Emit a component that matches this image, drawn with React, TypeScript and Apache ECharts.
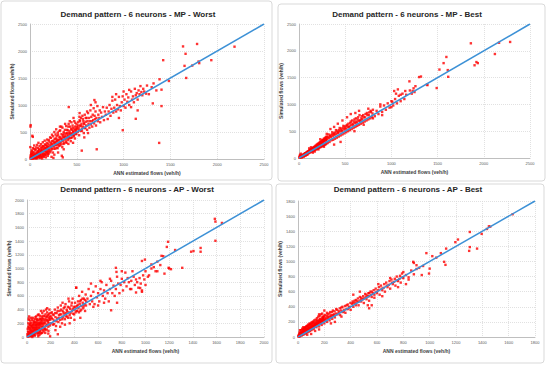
import React, { useEffect, useRef } from "react";
import * as echarts from "echarts";

const titles = [
  "Demand pattern - 6 neurons - MP - Worst",
  "Demand pattern - 6 neurons - MP - Best",
  "Demand pattern - 6 neurons - AP - Worst",
  "Demand pattern - 6 neurons - AP - Best",
];
const xAxisName = "ANN estimated flows (veh/h)";
const yAxisName = "Simulated flows (veh/h)";
const axisMax = [2500, 2500, 2000, 1800];
const axisStep = [500, 500, 200, 200];

const p1Points: number[][] = [
  [5,10],[10,30],[15,5],[20,45],[25,20],[30,60],[35,15],[40,80],[45,35],[50,55],[55,100],[60,25],[65,70],[70,120],[75,40],[80,90],[85,150],[90,60],[95,110],[100,30],[100,180],[105,85],[110,130],[115,50],[120,200],[125,95],[130,160],[135,70],[140,240],[145,120],[150,180],[155,90],[160,270],[165,140],[170,210],[175,110],[180,300],[185,160],[190,230],[195,130],[200,350],[200,190],[12,120],[8,70],[18,160],[30,200],[45,250],[60,180],[75,260],[90,300],[110,20],[130,10],[150,40],[170,30],[190,60],[3,220],[22,95],[38,130],[52,20],[68,10],[88,35],[102,75],[118,160],[128,230],[142,55],[158,200],[168,80],[178,250],[188,190],[198,100],
  [210,250],[215,400],[220,160],[225,300],[230,210],[235,450],[240,280],[245,120],[250,340],[255,230],[260,500],[265,300],[270,190],[275,380],[280,260],[285,420],[290,330],[295,200],[300,450],[305,280],[310,360],[315,520],[320,250],[325,400],[330,310],[335,600],[340,370],[345,220],[350,440],[355,330],[360,500],[365,290],[370,410],[375,650],[380,360],[385,470],[390,300],[395,540],[400,420],[405,350],[410,600],[415,480],[420,380],[425,700],[430,450],[435,330],[440,560],[445,470],[450,400],[455,620],[460,510],[465,760],[470,440],[475,560],[480,380],[485,670],[490,520],[495,460],[500,590],[230,40],[260,80],[300,120],[340,60],[280,550],[320,600],[360,180],[410,280],[460,300],[250,20],[350,30],
  [510,500],[515,680],[520,580],[525,440],[530,720],[535,620],[540,520],[545,760],[550,650],[555,560],[560,800],[565,600],[570,700],[575,480],[580,650],[585,820],[590,570],[595,690],[600,620],[605,760],[610,540],[615,700],[620,850],[625,650],[630,760],[635,580],[640,700],[645,900],[650,640],[655,780],[660,700],[665,600],[670,820],[675,720],[680,940],[685,660],[690,800],[695,740],[700,880],[705,620],[710,760],[720,980],[725,700],[730,820],[740,760],[745,900],[750,680],[760,860],[770,780],[780,960],[790,720],[800,880],[530,850],[580,400],[620,480],[650,1000],[700,1050],[610,880],
  [810,820],[820,950],[830,740],[840,880],[850,1000],[860,800],[870,930],[880,1080],[890,860],[900,950],[910,1100],[920,880],[930,1000],[940,920],[950,1150],[960,980],[970,900],[980,1050],[990,1160],[1000,980],[1010,1100],[1020,950],[1030,1200],[1040,1060],[1050,1140],[1060,1000],[1080,1250],[1090,1100],[1100,1160],[1110,1050],[1120,1300],[1130,1180],[1140,1220],[1150,1100],[1160,1270],[1170,1200],[1180,1350],[1190,1240],[1200,1180],[1210,1300],[1220,1250],[1240,1210],[880,1150],[920,1200],[950,760],[1000,1250],[1060,1280],[1150,900],[1080,960],
  [1130,744],[991,533],[713,180],[553,155],[414,962],[7,627],[5,600],[25,430],[30,410],[688,1092],[528,782],[1312,1030],[1405,980],[1380,298],[1405,1284],[1384,1476],[1484,1445],[1423,1830],[1669,1501],[1651,1725],[1733,1730],[1808,1775],[1937,1830],[1801,1805],[1662,1948],[1635,2085],[1785,2130],[2185,2080],[1300,1330],[1350,1270],[1250,1360],[1270,1200],[1320,1400],
];
const p1Cluster: number[][] = [
  [7,42],[13,88],[17,23],[23,140],[27,8],[33,105],[37,52],[43,190],[47,12],[53,77],[57,162],[63,48],[67,215],[73,98],[77,18],[83,132],[87,205],[93,45],[97,165],[103,240],[107,120],[113,62],[117,275],[123,145],[127,38],[133,195],[137,310],[143,88],[147,230],[153,152],[157,340],[163,75],[167,260],[173,188],[177,128],[183,360],[187,220],[193,95],[197,275],[203,155],[207,320],[213,215],[217,125],[223,390],[227,265],[233,180],[237,330],[243,245],[247,420],[253,190],[257,305],[263,370],[267,260],[273,455],[277,320],[283,210],[287,360],[293,270],[297,490],[303,345],[307,240],[313,410],[317,300],[323,530],[327,375],[333,270],[337,460],[343,350],[347,580],[353,410],[357,280],[363,470],[367,380],[373,540],[377,430],[383,320],[387,610],[393,480],[397,390],[403,530],[407,450],[413,650],[417,400],[423,520],[427,600],[433,480],[437,390],[443,680],[447,540],[453,450],[457,580],[463,500],[467,420],[473,700],[477,530],[483,600],[487,470],[493,550],[497,640],[505,560],[515,620],[525,540],[535,700],[545,610],[555,520],[565,740],[575,660],[585,580],[595,760],
];

const p2Points: number[][] = [
  [5,8],[10,20],[15,12],[20,30],[25,18],[30,45],[35,28],[40,55],[45,38],[50,65],[55,45],[60,80],[65,55],[70,90],[75,62],[80,100],[85,70],[90,115],[95,82],[100,125],[105,90],[110,140],[115,100],[120,150],[125,110],[130,165],[135,118],[140,175],[145,128],[150,190],[155,135],[160,200],[165,145],[170,215],[175,150],[180,230],[185,160],[190,245],[195,170],[200,260],[205,180],[210,270],[215,190],[220,285],[225,200],[230,300],[235,205],[240,310],[245,215],[250,330],[255,225],[260,340],[265,235],[270,360],[275,245],[280,370],[285,250],[290,390],[295,265],[300,400],[8,40],[12,60],[20,80],[30,10],[50,20],[70,40],[90,60],[110,180],[130,200],[150,100],[170,120],[190,200],[210,160],[230,350],[250,280],[270,210],[290,330],[310,280],
  [300,450],[320,440],[330,300],[340,420],[350,330],[360,480],[370,340],[380,460],[390,360],[400,520],[410,380],[420,480],[430,400],[440,560],[450,420],[460,520],[470,440],[480,600],[490,460],[500,560],[510,480],[520,620],[530,500],[540,580],[550,520],[560,680],[570,540],[580,640],[590,560],[600,720],[610,580],[620,680],[630,600],[640,760],[650,620],[660,700],[670,640],[680,780],[690,660],[700,760],[710,680],[720,820],[730,700],[740,800],[750,720],[760,850],[770,740],[780,860],[790,760],[800,900],
  [820,780],[840,880],[860,820],[880,960],[900,860],[920,980],[940,900],[960,1020],[980,940],[1000,1060],[1020,980],[1040,1100],[1060,1020],[1080,1160],[1100,1060],[1120,1200],[1140,1100],[1160,1180],[1200,1260],[1220,1200],[1240,1300],[1250,1230],[340,540],[380,580],[420,640],[470,700],[520,760],[560,820],[450,300],[380,250],[600,500],[700,620],[800,740],[900,800],[1000,950],[610,840],[650,880],[750,920],[1030,1250],[1050,1200],[1070,1280],
  [1860,2140],[2165,2150],[2285,2165],[2120,1940],[1920,1790],[1935,1770],[1900,1730],[1595,1885],[1565,1770],[1520,1650],[1610,1640],[1615,1515],[1490,1305],[1385,1370],[1300,1510],[1320,1520],[1195,1430],[1150,1250],[1230,1250],[1100,1180],[1010,1050],[1390,1360],[1260,1340],[880,1000],
];
const p2Cluster: number[][] = [
  [7,12],[13,25],[17,15],[23,35],[27,22],[33,40],[37,48],[43,52],[47,60],[53,58],[57,70],[63,68],[67,85],[73,78],[77,95],[83,88],[87,105],[93,98],[97,118],[103,108],[107,130],[113,120],[117,142],[123,132],[127,155],[133,148],[137,160],[143,150],[147,175],[153,168],[157,185],[163,175],[167,200],[173,190],[177,210],[183,205],[187,222],[193,215],[197,235],[203,228],[207,250],[213,240],[217,262],[223,255],[227,275],[233,262],[237,290],[243,280],[247,300],[253,290],[257,318],[263,300],[267,330],[273,312],[277,345],[283,325],[287,355],[293,340],[297,370],[305,350],[315,390],[325,370],[335,410],[345,390],[355,440],[365,410],[375,450],[385,430],[395,480],[405,450],[415,510],[425,470],[435,520],[445,495],[455,550],[465,500],[475,560],[485,530],[495,590],[505,540],[515,600],[525,570],[535,640],[545,590],[555,650],[565,610],[575,700],[585,620],[595,680],[605,650],[615,740],[625,660],[635,720],[645,690],[655,800],[665,700],[675,740],[685,720],[695,800],[715,760],[735,840],[755,800],[775,880],[795,830],
];

const p3Points: number[][] = [
  [5,10],[8,80],[10,30],[12,150],[15,50],[18,300],[20,15],[22,120],[25,60],[28,200],[30,25],[32,90],[35,160],[38,40],[40,110],[42,250],[45,70],[48,180],[50,20],[52,130],[55,90],[58,220],[60,45],[62,150],[65,100],[68,260],[70,60],[72,170],[75,120],[78,300],[80,80],[82,200],[85,140],[88,40],[90,230],[92,100],[95,170],[98,330],[100,60],[102,200],[105,130],[108,270],[110,90],[112,220],[115,160],[118,380],[120,110],[122,250],[125,190],[128,60],[130,280],[135,150],[140,310],[145,200],[150,120],[155,260],[160,400],[165,180],[170,300],[175,220],[180,150],[185,340],[190,250],[195,10],[200,300],[15,250],[25,180],[35,280],[45,0],[55,200],[65,20],[75,180],[85,260],[95,10],[105,30],[115,50],[125,300],[140,80],[155,100],[170,420],[180,50],
  [205,200],[210,360],[215,260],[220,180],[225,320],[230,240],[235,400],[240,290],[245,160],[250,350],[255,270],[260,430],[265,220],[270,320],[275,380],[280,250],[285,460],[290,330],[295,200],[300,380],[305,290],[310,420],[315,340],[320,260],[325,480],[330,350],[335,400],[340,300],[345,440],[350,360],[355,520],[360,320],[365,410],[370,280],[375,460],[380,380],[385,560],[390,340],[395,440],[400,400],[405,500],[410,360],[415,720],[420,450],[425,380],[430,520],[435,420],[440,600],[445,480],[450,380],[455,540],[460,450],[465,660],[470,500],[475,420],[480,560],[485,480],[490,380],[495,620],[500,520],[240,100],[280,150],[320,180],[360,200],[400,250],[450,280],[300,500],[350,560],[260,40],
  [510,560],[520,700],[530,480],[540,600],[550,520],[560,660],[570,480],[580,740],[590,580],[600,640],[610,520],[620,700],[630,800],[640,600],[650,680],[660,560],[670,760],[680,640],[690,520],[700,700],[710,820],[720,640],[730,750],[740,600],[750,700],[760,880],[770,780],[780,640],[790,760],[800,850],[810,680],[820,800],[830,940],[840,740],[850,860],[860,800],[870,700],[880,820],[890,960],[900,880],[910,760],[920,840],[930,800],[940,720],[950,860],[960,780],[970,680],[980,900],[990,840],[1000,760],[620,820],[700,850],[800,960],[560,440],[600,460],[650,500],[540,780],[880,700],[920,650],[760,500],
  [1585,1725],[1590,1685],[1590,1405],[1645,1665],[1190,1390],[1180,1315],[1385,1245],[1405,1255],[1465,1300],[1465,1245],[1310,1010],[1215,990],[1195,1010],[1160,925],[1085,960],[1125,1050],[1135,1185],[995,1130],[970,1110],[970,660],[955,715],[710,390],[415,720],[755,950],[750,1010],[1050,1060],[1100,1100],[1150,1180],[1200,1000],[1250,1270],[1050,1000],[1070,1020],[1030,900],[1100,960],[1000,960],[1020,880],[14,270],
];
const p3Cluster: number[][] = [
  [3,40],[6,120],[9,5],[11,200],[14,70],[17,140],[19,30],[21,180],[24,95],[26,240],[29,10],[31,130],[34,60],[36,210],[39,150],[41,20],[44,170],[46,90],[49,280],[51,140],[54,50],[56,240],[59,110],[61,180],[64,30],[66,210],[69,130],[71,290],[74,70],[76,220],[79,150],[81,100],[84,250],[86,180],[89,120],[91,320],[94,60],[96,200],[99,140],[101,250],[104,170],[106,80],[109,310],[111,190],[114,120],[116,260],[119,200],[121,60],[124,230],[126,150],[129,350],[131,210],[134,100],[136,260],[139,180],[141,380],[144,240],[146,130],[149,300],[151,210],[154,60],[156,330],[159,240],[161,160],[164,290],[166,110],[169,360],[171,250],[174,180],[176,320],[179,240],[181,90],[184,280],[186,200],[189,400],[191,300],[194,170],[196,260],[199,350],[208,280],[218,330],[228,190],[238,350],[248,230],[258,380],[268,280],[278,330],[288,400],[298,260],[308,360],[318,440],[328,300],[338,380],[348,280],[358,430],[368,350],[378,500],[388,410],[398,330],[408,440],[418,380],[428,470],[438,360],[448,520],[458,400],[468,560],[478,450],[488,540],[498,460],
];

const p4Points: number[][] = [
  [5,5],[8,30],[10,15],[12,60],[15,10],[18,45],[20,25],[22,90],[25,35],[28,20],[30,55],[32,110],[35,40],[38,70],[40,30],[42,100],[45,55],[48,80],[50,40],[52,120],[55,65],[58,90],[60,50],[62,140],[65,75],[68,100],[70,60],[72,150],[75,85],[78,110],[80,70],[82,160],[85,95],[88,120],[90,80],[92,170],[95,105],[98,130],[100,90],[102,180],[105,115],[108,140],[110,100],[112,190],[115,125],[118,150],[120,110],[125,200],[130,140],[135,170],[140,130],[145,220],[150,160],[155,190],[160,140],[165,240],[170,180],[175,200],[180,160],[185,260],[190,200],[195,230],[200,180],[205,290],[210,220],[215,250],[220,200],[225,300],[230,240],[235,270],[240,220],[245,330],[250,260],[255,290],[260,240],[265,350],[270,280],[275,300],[280,260],[290,370],[300,300],[310,340],[320,290],[330,390],[340,330],[350,360],[360,320],[370,420],[380,370],[390,400],[400,360],[15,90],[40,130],[70,30],[100,40],[130,80],[160,100],[190,260],[220,320],[250,180],[160,300],[200,350],[280,200],[330,270],
  [410,440],[420,400],[430,480],[440,420],[450,470],[460,420],[470,530],[480,470],[490,500],[500,450],[510,570],[520,500],[530,540],[540,480],[550,600],[560,530],[570,580],[580,520],[590,640],[600,580],[610,620],[620,560],[630,680],[640,620],[650,650],[660,600],[670,720],[680,660],[690,690],[700,640],[710,760],[720,700],[730,730],[740,680],[750,800],[760,740],[770,770],[780,720],[790,840],[800,780],[820,820],[840,790],[860,880],[880,830],[900,900],[420,560],[470,600],[540,380],[560,420],[610,700],[640,540],[700,780],[760,660],[800,860],[840,760],[880,980],[820,700],[540,580],[530,420],
  [1630,1625],[1450,1465],[1460,1460],[1435,1430],[1395,1365],[1360,1170],[1305,1390],[1305,1190],[1300,1140],[1195,1255],[1215,1290],[1125,1170],[1110,995],[1120,955],[1085,1110],[1020,1070],[975,1110],[1000,905],[995,840],[920,915],[940,820],[875,995],[950,940],[1050,1050],[900,950],
];
const p4Cluster: number[][] = [
  [3,12],[6,22],[9,8],[11,40],[14,28],[16,50],[19,35],[21,62],[24,48],[26,30],[29,70],[31,45],[34,85],[36,58],[39,100],[41,65],[44,78],[46,115],[49,62],[51,92],[54,130],[56,75],[59,108],[61,80],[64,122],[66,95],[69,145],[71,88],[74,128],[76,102],[79,165],[81,98],[84,135],[86,115],[89,180],[91,110],[94,150],[96,125],[99,160],[101,120],[104,195],[106,130],[109,170],[111,140],[114,205],[116,145],[119,180],[121,150],[124,220],[126,155],[129,175],[131,168],[134,230],[136,160],[139,200],[141,185],[144,250],[146,175],[149,210],[151,190],[154,270],[156,180],[159,220],[161,205],[164,280],[166,195],[169,230],[171,215],[174,300],[176,205],[179,240],[181,225],[184,310],[186,215],[189,250],[191,235],[194,280],[196,225],[199,265],[208,240],[218,280],[228,260],[238,310],[248,280],[258,330],[268,290],[278,340],[288,310],[298,360],[308,320],[318,380],[328,350],[338,400],[348,340],[358,410],[368,370],[378,430],[388,390],[398,450],[420,450],[440,490],[460,470],[480,520],[500,510],[520,560],[540,540],[560,600],[580,560],
  [415,470],[435,450],[455,510],[475,490],[495,540],[515,530],[535,580],[555,560],[575,620],[595,600],[615,660],[635,640],[655,700],[675,680],[695,740],[715,720],[735,770],[755,750],[775,810],[795,790],
];

const allPoints = [
  p1Points.concat(p1Cluster),
  p2Points.concat(p2Cluster),
  p3Points.concat(p3Cluster),
  p4Points.concat(p4Cluster),
];
// 1:1 reference line end points per panel
const refLines: number[][][] = [
  [[0, 0], [2500, 2500]],
  [[0, 0], [2500, 2500]],
  [[0, 0], [2000, 2000]],
  [[0, 0], [1800, 1800]],
];

const FONT = "'Liberation Sans', Arial, sans-serif";

const grids = [
  { left: 30, top: 24, width: 234, height: 135 },
  { left: 299, top: 24, width: 231, height: 134 },
  { left: 27, top: 200, width: 237, height: 137 },
  { left: 298, top: 201, width: 237, height: 136 },
];
const yNameGaps = [14, 15, 16, 15];
const titlePos = [
  [138, 14],
  [407, 14],
  [137, 189],
  [408, 189],
];
const borders = [
  [1, 1, 271, 179],
  [278, 4, 267, 177],
  [1, 184, 271, 179],
  [276, 184, 268, 179],
];

export default function App() {
  const ref = useRef<HTMLDivElement>(null);
  useEffect(() => {
    if (!ref.current) return;
    const chart = echarts.init(ref.current, null, { renderer: "svg" });
    const axisCommon = (i: number) => ({
      type: "value",
      gridIndex: i,
      min: 0,
      max: axisMax[i],
      interval: axisStep[i],
      axisLine: { show: true, lineStyle: { color: "#BFBFBF", width: 1 } },
      axisTick: { show: false },
      axisLabel: {
        fontSize: 4,
        color: "#595959",
        fontFamily: FONT,
        margin: 3,
        formatter: (v: number) => String(v),
      },
      splitLine: { show: true, lineStyle: { color: "#D9D9D9", type: [1, 1], width: 0.8 } },
      nameLocation: "middle",
      nameTextStyle: { fontSize: 5, fontWeight: "bold", color: "#404040", fontFamily: FONT },
    });
    const option: any = {
      animation: false,
      backgroundColor: "#ffffff",
      grid: grids.map((g) => ({ ...g, containLabel: false })),
      xAxis: [0, 1, 2, 3].map((i) => ({ ...axisCommon(i), name: xAxisName, nameGap: 11 })),
      yAxis: [0, 1, 2, 3].map((i) => ({ ...axisCommon(i), name: yAxisName, nameGap: yNameGaps[i] })),
      series: [
        ...allPoints.map((pts, i) => ({
          type: "scatter",
          xAxisIndex: i,
          yAxisIndex: i,
          data: pts,
          symbol: "rect",
          symbolSize: 2.4,
          itemStyle: { color: "#FF0000" },
          z: 2,
        })),
        ...refLines.map((ln, i) => ({
          type: "line",
          xAxisIndex: i,
          yAxisIndex: i,
          data: ln,
          showSymbol: false,
          lineStyle: { color: "#3D91D6", width: 1.5 },
          z: 3,
        })),
      ],
      graphic: [
        ...borders.map((b) => ({
          type: "rect",
          shape: { x: b[0], y: b[1], width: b[2], height: b[3], r: 3 },
          style: { fill: "none", stroke: "#D9D9D9", lineWidth: 1 },
          silent: true,
        })),
        ...titles.map((t, i) => ({
          type: "text",
          x: titlePos[i][0],
          y: titlePos[i][1],
          style: {
            text: t,
            align: "center",
            verticalAlign: "middle",
            fontSize: 8,
            fontWeight: "bold",
            fontFamily: FONT,
            fill: "#262626",
          },
        })),
      ],
    };
    chart.setOption(option);
    return () => chart.dispose();
  }, []);
  return (
    <div
      ref={ref}
      style={{ position: "fixed", left: 0, top: 0, width: 550, height: 365 }}
    />
  );
}
